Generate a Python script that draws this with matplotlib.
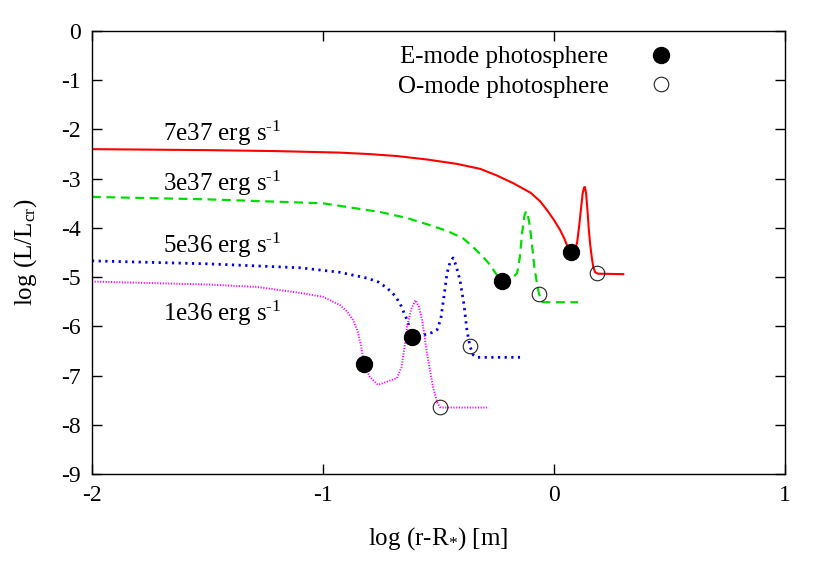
import matplotlib.pyplot as plt

plt.rcParams['font.family'] = ['Liberation Serif', 'DejaVu Serif']
plt.rcParams['mathtext.fontset'] = 'custom'
plt.rcParams['mathtext.rm'] = 'Liberation Serif'
plt.rcParams['mathtext.it'] = 'Liberation Serif:italic'

# curves: log(r-R*) vs log(L/Lcr)
x_7e37 = [-2.0, -1.5, -1.2, -0.93, -0.80, -0.68, -0.55, -0.42, -0.32, -0.25, -0.177, -0.10, -0.06, -0.03, 0.0,
          0.026, 0.045, 0.061, 0.074, 0.090, 0.100, 0.108, 0.116, 0.124, 0.130, 0.134, 0.139, 0.145,
          0.151, 0.157, 0.163, 0.170, 0.178, 0.190, 0.30]
y_7e37 = [-2.40, -2.42, -2.44, -2.47, -2.50, -2.54, -2.61, -2.70, -2.80, -2.93, -3.09, -3.29, -3.46, -3.64, -3.84,
          -4.04, -4.22, -4.41, -4.49, -4.45, -4.30, -4.00, -3.65, -3.30, -3.18, -3.17, -3.30, -3.65,
          -4.05, -4.35, -4.58, -4.80, -4.90, -4.93, -4.94]

x_3e37 = [-2.0, -1.5, -1.0, -0.75, -0.636, -0.54, -0.463, -0.394, -0.35, -0.307, -0.277, -0.247,
          -0.225, -0.20, -0.18, -0.16, -0.148, -0.138, -0.128, -0.121, -0.114, -0.105, -0.095,
          -0.085, -0.074, -0.065, -0.055, -0.048, 0.104]
y_3e37 = [-3.37, -3.42, -3.50, -3.68, -3.80, -3.94, -4.06, -4.21, -4.39, -4.59, -4.75, -4.96,
          -5.08, -5.06, -5.02, -4.92, -4.60, -4.10, -3.75, -3.66, -3.72, -3.95, -4.35,
          -4.80, -5.12, -5.34, -5.48, -5.51, -5.51]

x_5e36 = [-2.0, -1.5, -1.1, -0.93, -0.81, -0.76, -0.723, -0.69, -0.667, -0.636, -0.615, -0.59,
          -0.567, -0.53, -0.506, -0.49, -0.478, -0.463, -0.45, -0.437, -0.425, -0.407, -0.39,
          -0.377, -0.364, -0.35, -0.333, -0.147]
y_5e36 = [-4.67, -4.73, -4.81, -4.90, -5.02, -5.10, -5.22, -5.37, -5.53, -5.87, -6.21, -6.22,
          -6.18, -6.13, -6.07, -5.85, -5.45, -4.92, -4.70, -4.61, -4.75, -5.06, -5.55,
          -6.07, -6.40, -6.58, -6.63, -6.63]

x_1e36 = [-2.0, -1.75, -1.5, -1.286, -1.10, -1.0, -0.926, -0.896, -0.87, -0.85, -0.835, -0.822,
          -0.797, -0.762, -0.72, -0.68, -0.66, -0.648, -0.636, -0.618, -0.60, -0.585, -0.571,
          -0.55, -0.524, -0.505, -0.494, -0.48, -0.29]
y_1e36 = [-5.09, -5.12, -5.15, -5.20, -5.32, -5.40, -5.57, -5.70, -5.87, -6.10, -6.40, -6.77,
          -7.03, -7.19, -7.12, -7.05, -6.83, -6.45, -6.01, -5.65, -5.47, -5.60, -5.87,
          -6.54, -7.23, -7.55, -7.64, -7.65, -7.65]

# photosphere positions
e_x = [0.074, -0.225, -0.615, -0.822]
e_y = [-4.49, -5.08, -6.21, -6.77]
o_x = [0.186, -0.065, -0.364, -0.494]
o_y = [-4.92, -5.34, -6.40, -7.64]

labels = ['7e37', '3e37', '5e36', '1e36']
label_y = [-2.07, -3.09, -4.35, -5.73]

fig = plt.figure(figsize=(8.3, 5.81), dpi=100)
ax = fig.add_axes([0.1108, 0.1842, 0.835, 0.7624])

ax.plot(x_7e37, y_7e37, color='#ff0000', lw=1.5, ls='-')
ax.plot(x_3e37, y_3e37, color='#00dd00', lw=1.6, ls=(0, (4, 2.5)))
ax.plot(x_5e36, y_5e36, color='#0000ee', lw=2.0, ls=(0, (0.8, 1.6)))
ax.plot(x_1e36, y_1e36, color='#ff00ff', lw=1.4, ls=(0, (0.6, 0.8)))

ax.plot(e_x, e_y, 'o', color='black', ms=11.5, ls='none', label='E-mode photosphere', zorder=5)
ax.plot(o_x, o_y, 'o', mfc='none', mec='#222222', mew=0.8, ms=10.5, ls='none',
        label='O-mode photosphere', zorder=5)

for lab, ly in zip(labels, label_y):
    ax.text(-1.437, ly, lab + r' erg s$^{\text{-1}}$', fontsize=18, ha='center', va='center')

ax.legend(loc='upper right', bbox_to_anchor=(0.8716, 0.989), frameon=False, markerfirst=False,
          fontsize=18, handletextpad=1.1, labelspacing=0.28, borderaxespad=0.0)

ax.set_xlim(-2, 1)
ax.set_ylim(-9, 0)
ax.set_xticks([-2, -1, 0, 1])
ax.set_xticklabels(['-2', '-1', '0', '1'])
ax.set_yticks(range(-9, 1))
ax.set_yticklabels([str(v) for v in range(-9, 1)])
ax.tick_params(direction='in', top=True, right=True, labelsize=17, length=7, width=1, pad=8)
for s in ax.spines.values():
    s.set_linewidth(1.0)

ax.set_xlabel(r'log (r-R$_{*}$) [m]', fontsize=18, labelpad=14)
ax.set_ylabel(r'log (L/L$_{\mathrm{cr}}$)', fontsize=18, labelpad=16)

fig.savefig('out.png', dpi=100)
